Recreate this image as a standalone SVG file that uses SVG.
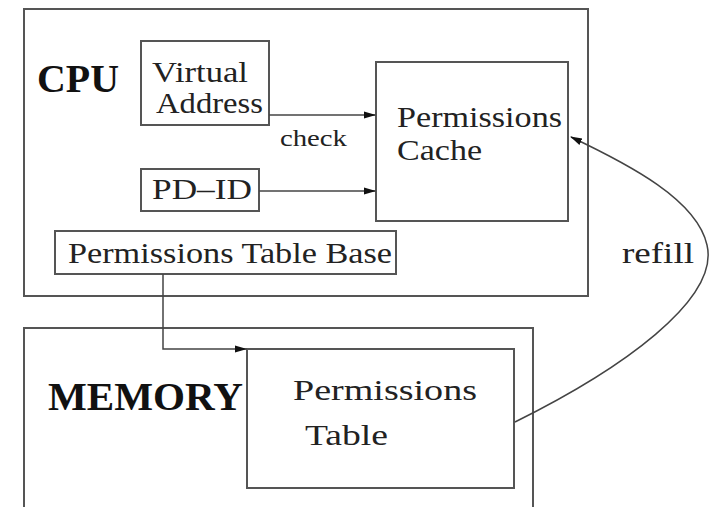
<svg xmlns="http://www.w3.org/2000/svg" width="714" height="507" viewBox="0 0 714 507">
<style>
.box{fill:none;stroke:#555;stroke-width:2}
.line{fill:none;stroke:#444;stroke-width:1.5}
.t{font-family:"Liberation Serif","Times New Roman",serif;font-size:29px;fill:#222}
.b{font-family:"Liberation Serif","Times New Roman",serif;font-size:40px;font-weight:bold;fill:#111}
.s{font-size:23px}
</style>
<defs>
<marker id="arr" markerWidth="12" markerHeight="9" refX="11" refY="4.5" orient="auto" markerUnits="userSpaceOnUse">
<path d="M0,1 L12,4.5 L0,8 Z" fill="#111"/>
</marker>
</defs>
<rect width="714" height="507" fill="#fff"/>
<g id="cpu">
<rect class="box" x="24" y="9" width="564" height="287"/>
<text class="b" x="37" y="92" textLength="82" lengthAdjust="spacingAndGlyphs">CPU</text>
</g>
<g id="memory">
<path class="box" d="M24,510 V328 H533 V510"/>
<text class="b" x="48" y="410" textLength="195" lengthAdjust="spacingAndGlyphs">MEMORY</text>
</g>
<g id="virtual-address">
<rect class="box" x="141" y="41" width="128" height="84"/>
<text class="t" x="152" y="82" textLength="96" lengthAdjust="spacingAndGlyphs">Virtual</text>
<text class="t" x="156" y="113" textLength="107" lengthAdjust="spacingAndGlyphs">Address</text>
</g>
<g id="pd-id">
<rect class="box" x="141" y="169" width="118" height="42"/>
<text class="t" x="152" y="199" textLength="100" lengthAdjust="spacingAndGlyphs">PD–ID</text>
</g>
<g id="permissions-table-base">
<rect class="box" x="55" y="231" width="341" height="43"/>
<text class="t" x="68" y="263" textLength="324" lengthAdjust="spacingAndGlyphs">Permissions Table Base</text>
</g>
<g id="permissions-cache">
<rect class="box" x="376" y="62" width="192" height="159"/>
<text class="t" x="397" y="127" textLength="165" lengthAdjust="spacingAndGlyphs">Permissions</text>
<text class="t" x="397" y="160" textLength="85" lengthAdjust="spacingAndGlyphs">Cache</text>
</g>
<g id="permissions-table">
<rect class="box" x="247" y="349" width="267" height="139"/>
<text class="t" x="293" y="400" textLength="184" lengthAdjust="spacingAndGlyphs">Permissions</text>
<text class="t" x="305" y="445" textLength="83" lengthAdjust="spacingAndGlyphs">Table</text>
</g>
<g id="connectors">
<path class="line" d="M269,115 H375" marker-end="url(#arr)"/>
<text class="t s" x="280" y="146" textLength="67" lengthAdjust="spacingAndGlyphs">check</text>
<path class="line" d="M259,191 H375" marker-end="url(#arr)"/>
<path class="line" d="M163,274 V349 H246" marker-end="url(#arr)"/>
<path class="line" d="M515,422 C620,370 720,300 707,245 C697,200 630,165 571,137" marker-end="url(#arr)"/>
<text class="t" x="622" y="263" textLength="72" lengthAdjust="spacingAndGlyphs">refill</text>
</g>
</svg>
